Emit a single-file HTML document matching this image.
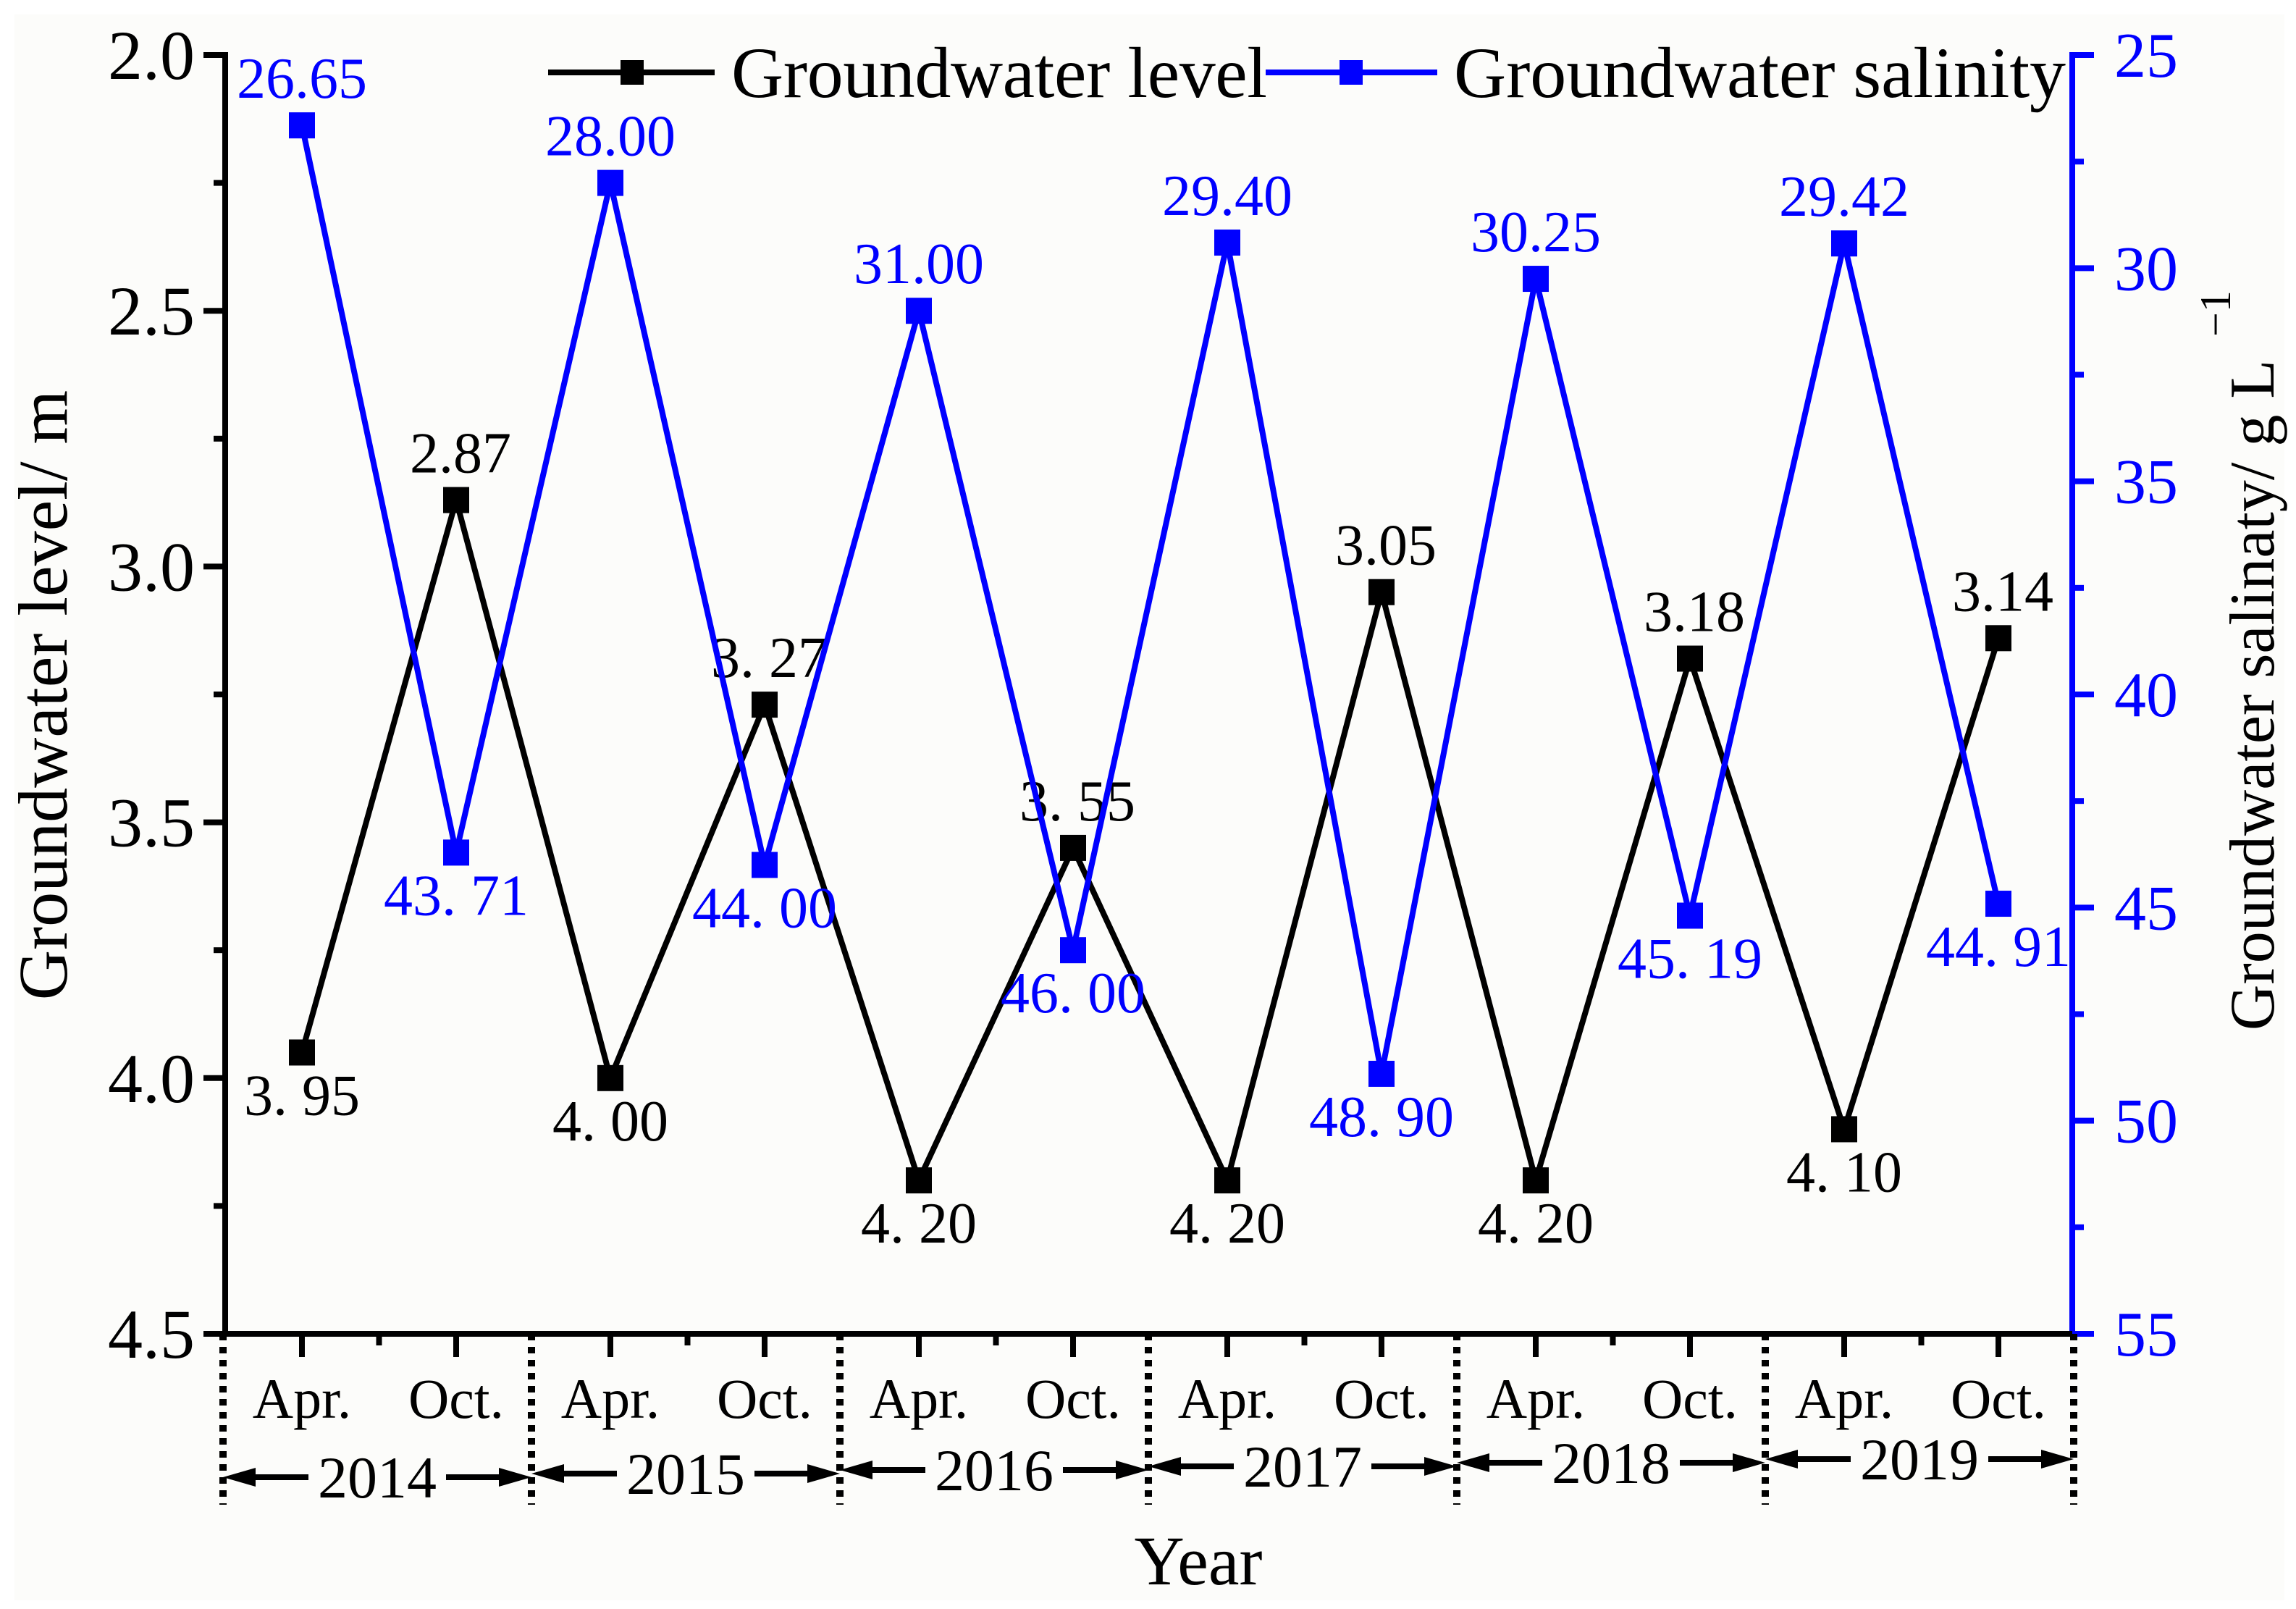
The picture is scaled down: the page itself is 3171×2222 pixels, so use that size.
<!DOCTYPE html>
<html><head><meta charset="utf-8"><style>
html,body{margin:0;padding:0;background:#fff}
svg{display:block}
text{font-family:"Liberation Serif",serif}
</style></head><body>
<svg id="chart" width="3171" height="2222" viewBox="0 0 3171 2222" xmlns="http://www.w3.org/2000/svg">
<rect x="20" y="20" width="3135" height="2190" fill="#fcfcfa"/>
<g id="axes"></g>
<g id="marks"></g>
</svg>
<script>
const categories = ["Apr.","Oct.","Apr.","Oct.","Apr.","Oct.","Apr.","Oct.","Apr.","Oct.","Apr.","Oct."];
const years = ["2014","2015","2016","2017","2018","2019"];
const levelValues = [3.95,2.87,4.00,3.27,4.20,3.55,4.20,3.05,4.20,3.18,4.10,3.14];
const levelLabels = ["3. 95","2.87","4. 00","3. 27","4. 20","3. 55","4. 20","3.05","4. 20","3.18","4. 10","3.14"];
const salinityValues = [26.65,43.71,28.00,44.00,31.00,46.00,29.40,48.90,30.25,45.19,29.42,44.91];
const salinityLabels = ["26.65","43. 71","28.00","44. 00","31.00","46. 00","29.40","48. 90","30.25","45. 19","29.42","44. 91"];
const leftTicks = [2.0,2.5,3.0,3.5,4.0,4.5];
const rightTicks = [25,30,35,40,45,50,55];

const NS="http://www.w3.org/2000/svg";
const L=311,R=2862,T=76,B=1842;
const x0=417,dx=213;
function xPos(i){return x0+dx*i;}
function yL(v){return T+(v-2.0)/(4.5-2.0)*(B-T);}
function yR(v){return T+(v-25)/(55-25)*(B-T);}
function mk(tag,attrs,parent){const e=document.createElementNS(NS,tag);for(const k in attrs)e.setAttribute(k,attrs[k]);parent.appendChild(e);return e;}
const ax=document.getElementById('axes'), mg=document.getElementById('marks');
const SW=8;

let e;
e=mk('line',{x1:L,y1:T-4,x2:L,y2:B,stroke:'#000','stroke-width':SW},ax);


e=mk('line',{x1:R,y1:T-4,x2:R,y2:B,stroke:'#0000ff','stroke-width':SW},ax);


e=mk('line',{x1:L-30,y1:B,x2:R+27,y2:B,stroke:'#000','stroke-width':SW},ax);



leftTicks.forEach((v,i)=>{
  const y=yL(v);
  e=mk('line',{x1:L-30,y1:y,x2:L,y2:y,stroke:'#000','stroke-width':SW},ax);
  
  
  if(i<leftTicks.length-1){const ym=yL(v+0.25);
    e=mk('line',{x1:L-16,y1:ym,x2:L,y2:ym,stroke:'#000','stroke-width':SW},ax);
    
    }
  e=mk('text',{x:L-42,y:y+33,'font-size':96,'text-anchor':'end',fill:'#000'},ax);
  e.textContent=v.toFixed(1);
  
  
});
rightTicks.forEach((v,i)=>{
  const y=yR(v);
  e=mk('line',{x1:R,y1:y,x2:R+30,y2:y,stroke:'#0000ff','stroke-width':SW},ax);
  
  
  if(i<rightTicks.length-1){const ym=yR(v+2.5);
    e=mk('line',{x1:R,y1:ym,x2:R+16,y2:ym,stroke:'#0000ff','stroke-width':SW},ax);
    
    }
  e=mk('text',{x:R+58,y:y+30,'font-size':88,fill:'#0000ff'},ax);
  e.textContent=v;
  
  
});
categories.forEach((c,i)=>{
  const x=xPos(i);
  e=mk('line',{x1:x,y1:B,x2:x,y2:B+32,stroke:'#000','stroke-width':SW},ax);
  
  
  if(i%2===0){e=mk('line',{x1:x+dx/2,y1:B,x2:x+dx/2,y2:B+16,stroke:'#000','stroke-width':SW},ax);
    
    }
  e=mk('text',{x:x,y:1958,'font-size':78,'text-anchor':'middle',fill:'#000'},ax);
  e.textContent=c;
  
  
});
const yw=2*dx;
for(let k=0;k<=years.length;k++){
  const x=L-3+yw*k;
  e=mk('line',{x1:x,y1:B,x2:x,y2:2078,stroke:'#000','stroke-width':10,'stroke-dasharray':'9 9'},ax);
  
  
}
years.forEach((yv,k)=>{
  const xa=L-3+yw*k, xb=xa+yw, xm=(xa+xb)/2, y=2040-5*k;
  e=mk('line',{x1:xa+30,y1:y,x2:xm-95,y2:y,stroke:'#000','stroke-width':SW},ax);
  
  
  e=mk('polygon',{points:`${xa},${y} ${xa+45},${y-13} ${xa+45},${y+13}`,fill:'#000'},ax);
  
  
  e=mk('line',{x1:xm+95,y1:y,x2:xb-30,y2:y,stroke:'#000','stroke-width':SW},ax);
  
  
  e=mk('polygon',{points:`${xb},${y} ${xb-45},${y-13} ${xb-45},${y+13}`,fill:'#000'},ax);
  
  
  e=mk('text',{x:xm,y:y+28,'font-size':82,'text-anchor':'middle',fill:'#000'},ax);
  e.textContent=yv;
  
  
});
e=mk('text',{x:1655,y:2188,'font-size':96,'text-anchor':'middle',fill:'#000'},ax);
e.textContent='Year';


e=mk('text',{x:0,y:0,'font-size':96,'text-anchor':'middle',fill:'#000',transform:'translate(92,960) rotate(-90)'},ax);
e.textContent='Groundwater level/ m';


e=mk('text',{x:0,y:0,'font-size':88,'text-anchor':'middle',fill:'#000',transform:'translate(3140,960) rotate(-90)'},ax);
e.textContent='Groundwater salinaty/ g L';


e=mk('text',{x:3080,y:465,'font-size':60,fill:'#000',transform:'rotate(-90 3080 465)'},ax);
e.textContent='−1';



function drawSeries(vals,yf,color,name,labels,isLevel){
  const pts=vals.map((v,i)=>xPos(i)+','+yf(v)).join(' ');
  let p=mk('polyline',{points:pts,fill:'none',stroke:color,'stroke-width':SW,'stroke-linejoin':'miter'},mg);
  
  
  vals.forEach((v,i)=>{
    const x=xPos(i),y=yf(v);
    let r=mk('rect',{x:x-18,y:y-18,width:36,height:36,fill:color},mg);
    
    
    const high = isLevel ? (i%2===1) : (i%2===0);
    const ty = high ? y-38 : y+86;
    let t=mk('text',{x:x+(isLevel&&high?6:0),y:ty,'font-size':80,'text-anchor':'middle',fill:color},mg);
    t.textContent=labels[i];
    
    
  });
}
drawSeries(levelValues,yL,'#000','level',levelLabels,true);
drawSeries(salinityValues,yR,'#0000ff','salinity',salinityLabels,false);

const lg=mk('g',{},ax);


e=mk('line',{x1:757,y1:100,x2:987,y2:100,stroke:'#000','stroke-width':SW},lg);


e=mk('rect',{x:857,y:83,width:32,height:34,fill:'#000'},lg);


e=mk('text',{x:1010,y:134,'font-size':100,fill:'#000',textLength:740},lg);
e.textContent='Groundwater level';


e=mk('line',{x1:1748,y1:100,x2:1985,y2:100,stroke:'#0000ff','stroke-width':SW},lg);


e=mk('rect',{x:1850,y:83,width:32,height:34,fill:'#0000ff'},lg);


e=mk('text',{x:2008,y:134,'font-size':100,fill:'#000',textLength:845},lg);
e.textContent='Groundwater salinity';


</script>
</body></html>
